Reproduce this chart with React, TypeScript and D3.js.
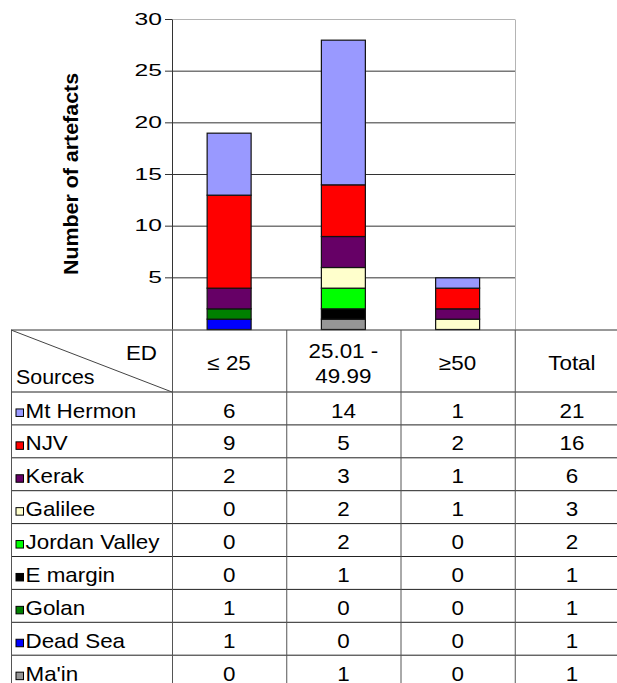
import React from "react";
import * as d3 from "d3";

const categories = ["≤ 25", "25.01 - 49.99", "≥50"];
const headerLines = [["≤ 25"], ["25.01 -", "49.99"], ["≥50"], ["Total"]];
const sources = ["Mt Hermon", "NJV", "Kerak", "Galilee", "Jordan Valley", "E margin", "Golan", "Dead Sea", "Ma'in"];
const colors = ["#9999FF", "#FF0000", "#660066", "#FFFFCC", "#00FF00", "#000000", "#008000", "#0000FF", "#969696"];
const valuesLe25 = [6, 9, 2, 0, 0, 0, 1, 1, 0];
const valuesMid = [14, 5, 3, 2, 2, 1, 0, 0, 1];
const valuesGe50 = [1, 2, 1, 1, 0, 0, 0, 0, 0];
const totals = [21, 16, 6, 3, 2, 1, 1, 1, 1];
const yTicks = [5, 10, 15, 20, 25, 30];

const W = 617, H = 683;
const FONT = "'Liberation Sans', Arial, sans-serif";

function T({ x, y, size, anchor = "middle", weight = "normal", rotate = 0, sx = 1.12, children }: any) {
  return (
    <text
      transform={`translate(${x},${y}) rotate(${rotate}) scale(${sx},1)`}
      fontSize={size}
      fontFamily={FONT}
      fontWeight={weight}
      textAnchor={anchor}
      dominantBaseline="central"
      fill="#000"
    >
      {children}
    </text>
  );
}

export default function App() {
  const plotLeft = 172, plotRight = 515, plotTop = 19.5, plotBottom = 329.5;
  const tableLeft = 11, tableRight = 629;
  const headerTop = 330, headerBottom = 392, rowH = 32.9;

  const cols = d3.scaleBand<string>().domain([...categories, "Total"]).range([plotLeft, tableRight]).padding(0);
  const y = d3.scaleLinear().domain([0, 30]).range([plotBottom, plotTop]);
  const bw = cols.bandwidth();
  const barW = bw * 0.385;

  const rows = categories.map((c, i) => {
    const vals = [valuesLe25, valuesMid, valuesGe50][i];
    const o: any = { cat: c };
    sources.forEach((s, j) => (o[s] = vals[j]));
    return o;
  });
  const stackKeys = [...sources].reverse();
  const series = d3.stack().keys(stackKeys)(rows);

  const rowY = (i: number) => headerBottom + i * rowH;
  const colEdges = [tableLeft, ...[...categories, "Total"].map((c) => cols(c)!), tableRight];

  return (
    <svg width={W} height={H} style={{ position: "absolute", left: 0, top: 0, background: "#fff" }}>
      <rect x={0} y={0} width={W} height={H} fill="#fff" />
      {/* plot border */}
      <line x1={plotLeft} x2={plotRight} y1={y(30)} y2={y(30)} stroke="#b4b4b4" strokeWidth={1} />
      <line x1={plotRight + 0.5} x2={plotRight + 0.5} y1={y(30)} y2={plotBottom} stroke="#b4b4b4" strokeWidth={1} />
      {/* gridlines */}
      {yTicks.map((t) => (
        <g key={t}>
          {t < 30 && <line x1={plotLeft} x2={plotRight} y1={y(t)} y2={y(t)} stroke="#333" strokeWidth={1} />}
          <line x1={plotLeft - 7} x2={plotLeft} y1={y(t)} y2={y(t)} stroke="#333" strokeWidth={1} />
          <T x={plotLeft - 10} y={y(t) - 1} size={17} sx={1.45} anchor="end">{t}</T>
        </g>
      ))}
      {/* y axis */}
      <line x1={plotLeft + 0.5} x2={plotLeft + 0.5} y1={y(30)} y2={plotBottom} stroke="#333" strokeWidth={1} />
      <T x={71} y={174} size={20} sx={1.07} weight="bold" rotate={-90}>Number of artefacts</T>
      {/* bars */}
      {series.map((s) => {
        const color = colors[sources.indexOf(s.key)];
        return (
          <g key={s.key}>
            {s.map((d, di) => {
              if (d[1] - d[0] <= 0) return null;
              const cx = cols(categories[di])! + bw / 2;
              return (
                <rect
                  key={di}
                  x={cx - barW / 2}
                  y={y(d[1])}
                  width={barW}
                  height={y(d[0]) - y(d[1])}
                  fill={color}
                  stroke="#111"
                  strokeWidth={1.2}
                />
              );
            })}
          </g>
        );
      })}
      {/* table lines */}
      <line x1={tableLeft} x2={tableRight} y1={headerTop} y2={headerTop} stroke="#333" strokeWidth={1} />
      {sources.map((_, i) => (
        <line key={i} x1={tableLeft} x2={tableRight} y1={rowY(i)} y2={rowY(i)} stroke="#222" strokeWidth={1} />
      ))}
      {colEdges.slice(0, -1).map((x, i) => (
        <line key={i} x1={x + 0.5} x2={x + 0.5} y1={headerTop} y2={H} stroke="#555" strokeWidth={1} />
      ))}
      <line x1={tableLeft} y1={headerTop} x2={plotLeft} y2={headerBottom} stroke="#444" strokeWidth={1} />
      <T x={157} y={353} size={20} anchor="end">ED</T>
      <T x={16} y={377} size={20} sx={1.07} anchor="start">Sources</T>
      {headerLines.map((lines, i) => {
        const cx = cols(cols.domain()[i])! + bw / 2;
        const mid = (headerTop + headerBottom) / 2 + 2;
        return lines.map((l, k) => (
          <T key={i + "-" + k} x={cx} y={mid + (k - (lines.length - 1) / 2) * 25} size={20}>{l}</T>
        ));
      })}
      {sources.map((s, i) => {
        const cy = rowY(i) + rowH / 2;
        const vals = [valuesLe25[i], valuesMid[i], valuesGe50[i], totals[i]];
        return (
          <g key={s}>
            <rect x={16} y={cy + 0.5} width={7.5} height={7.5} fill={colors[i]} stroke="#000" strokeWidth={1} />
            <T x={25.5} y={cy + 2} size={20} anchor="start">{s}</T>
            {vals.map((v, k) => (
              <T key={k} x={cols(cols.domain()[k])! + bw / 2} y={cy + 2} size={20}>{v}</T>
            ))}
          </g>
        );
      })}
    </svg>
  );
}
